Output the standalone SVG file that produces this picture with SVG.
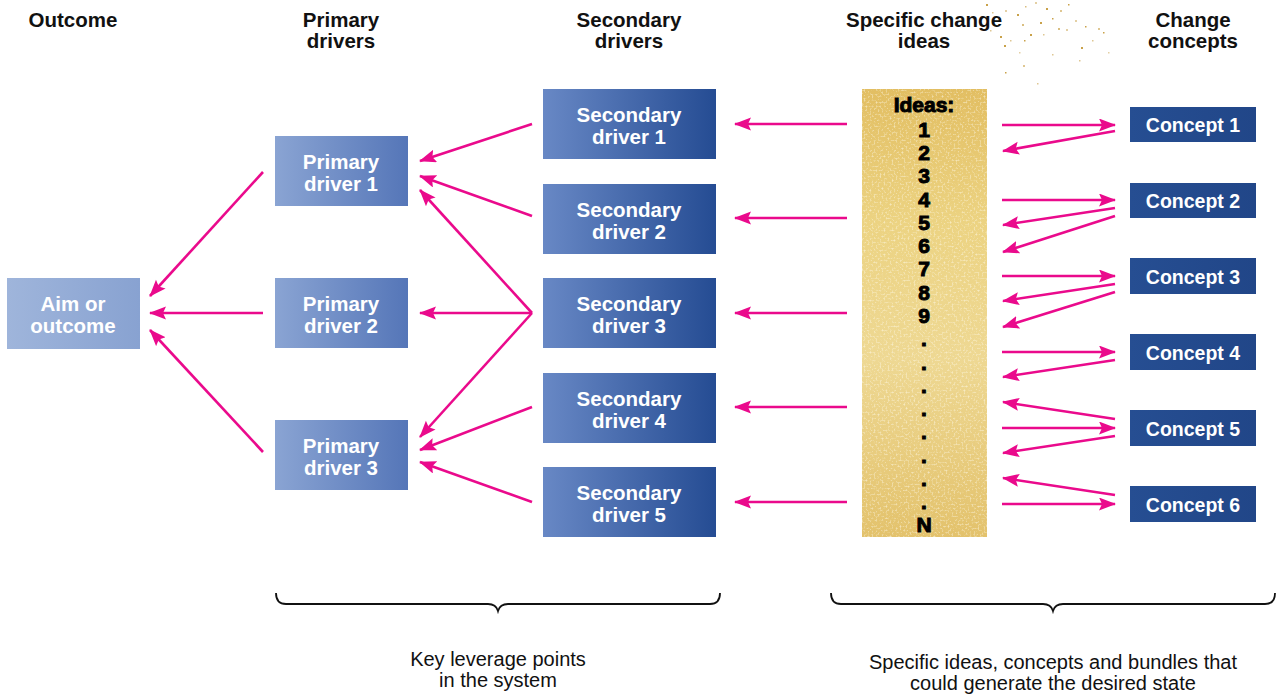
<svg xmlns="http://www.w3.org/2000/svg" width="1277" height="694" viewBox="0 0 1277 694">
<defs>
<linearGradient id="gAim" x1="0" y1="0" x2="1" y2="0"><stop offset="0" stop-color="#9fb5db"/><stop offset="1" stop-color="#88a2d1"/></linearGradient>
<linearGradient id="gPri" x1="0" y1="0" x2="1" y2="0"><stop offset="0" stop-color="#8aa4d3"/><stop offset="1" stop-color="#5576b8"/></linearGradient>
<linearGradient id="gSec" x1="0" y1="0" x2="1" y2="0"><stop offset="0" stop-color="#6888c5"/><stop offset="1" stop-color="#254c93"/></linearGradient>
<linearGradient id="gCon" x1="0" y1="0" x2="1" y2="0"><stop offset="0" stop-color="#264e92"/><stop offset="1" stop-color="#214688"/></linearGradient>
<linearGradient id="gGold" x1="0" y1="0" x2="0" y2="1"><stop offset="0" stop-color="#e2be62"/><stop offset="0.3" stop-color="#ecd382"/><stop offset="0.6" stop-color="#eed893"/><stop offset="1" stop-color="#e3c26c"/></linearGradient>
<filter id="sparkle" x="0" y="0" width="1" height="1">
<feTurbulence type="fractalNoise" baseFrequency="0.5" numOctaves="2" seed="3" result="n"/>
<feColorMatrix in="n" type="matrix" values="0 0 0 0 1  0 0 0 0 0.97  0 0 0 0 0.85  0 0 0 3.2 -1.6" result="s"/>
<feComposite in="s" in2="SourceGraphic" operator="in"/>
</filter>
<marker id="ah" markerUnits="userSpaceOnUse" markerWidth="18" markerHeight="14" refX="16" refY="6.5" orient="auto">
<path d="M0,0 L17,6.5 L0,13 L3,6.5 Z" fill="#ea0a8c"/>
</marker>
<style>
.hdr{font-family:"Liberation Sans",Arial,sans-serif;font-weight:bold;font-size:20.5px;fill:#111;text-anchor:middle}
.nt{font-family:"Liberation Sans",Arial,sans-serif;font-weight:bold;font-size:20.5px;fill:#fff;text-anchor:middle}
.ct{font-family:"Liberation Sans",Arial,sans-serif;font-weight:bold;font-size:19.5px;fill:#fff;text-anchor:middle}
.id{font-family:"Liberation Sans",Arial,sans-serif;font-weight:bold;font-size:21px;fill:#000;text-anchor:middle;stroke:#000;stroke-width:1}
.ft{font-family:"Liberation Sans",Arial,sans-serif;font-size:20px;fill:#111;text-anchor:middle}
.ar{stroke:#ea0a8c;stroke-width:2.6;fill:none;marker-end:url(#ah)}
.br{stroke:#111;stroke-width:1.8;fill:none}
.sp{fill:#c9a24a}
</style>
</defs>
<rect width="1277" height="694" fill="#fff"/>

<g id="speckles">
<rect class="sp" x="986" y="4" width="2" height="2"/><rect class="sp" x="992" y="12" width="1.5" height="1.5" opacity="0.6"/>
<rect class="sp" x="1005" y="10" width="2" height="2" opacity="0.5"/><rect class="sp" x="1017" y="14" width="2" height="2"/>
<rect class="sp" x="1025" y="6" width="1.5" height="1.5" opacity="0.7"/><rect class="sp" x="1035" y="2" width="2" height="2" opacity="0.5"/>
<rect class="sp" x="1046" y="8" width="2" height="2" fill="#8a6a40"/><rect class="sp" x="1052" y="18" width="1.5" height="1.5"/>
<rect class="sp" x="1060" y="10" width="2" height="2" opacity="0.6"/><rect class="sp" x="1068" y="4" width="1.5" height="1.5"/>
<rect class="sp" x="1075" y="20" width="2" height="2" opacity="0.5"/><rect class="sp" x="1085" y="26" width="1.5" height="1.5"/>
<rect class="sp" x="1098" y="28" width="2" height="2" opacity="0.6"/><rect class="sp" x="1103" y="32" width="1.5" height="1.5"/>
<rect class="sp" x="1022" y="24" width="2" height="2" opacity="0.7"/><rect class="sp" x="1040" y="22" width="2" height="2" fill="#8a6a40"/>
<rect class="sp" x="1030" y="34" width="2" height="2"/><rect class="sp" x="1043" y="34" width="1.5" height="1.5" opacity="0.6"/>
<rect class="sp" x="1058" y="28" width="2" height="2" opacity="0.7"/><rect class="sp" x="1066" y="29" width="2" height="2" opacity="0.5"/>
<rect class="sp" x="1000" y="36" width="2" height="2" fill="#8a6a40"/><rect class="sp" x="1004" y="45" width="2" height="2"/>
<rect class="sp" x="1010" y="40" width="1.5" height="1.5" opacity="0.6"/><rect class="sp" x="1024" y="40" width="1.5" height="1.5"/>
<rect class="sp" x="1081" y="47" width="2" height="2" fill="#8a6a40"/><rect class="sp" x="1052" y="54" width="1.5" height="1.5" opacity="0.6"/>
<rect class="sp" x="1019" y="52" width="1.5" height="1.5" opacity="0.5"/><rect class="sp" x="1005" y="72" width="1.5" height="1.5"/>
<rect class="sp" x="1023" y="65" width="2" height="2" opacity="0.6"/><rect class="sp" x="1079" y="60" width="1.5" height="1.5" opacity="0.6"/>
<rect class="sp" x="1037" y="83" width="1.5" height="1.5" opacity="0.6"/><rect class="sp" x="1108" y="52" width="1.5" height="1.5" opacity="0.5"/>
<rect class="sp" x="1092" y="40" width="1.5" height="1.5" opacity="0.6"/><rect class="sp" x="990" y="30" width="1.5" height="1.5" opacity="0.6"/>
</g>

<g id="headers">
<text class="hdr" x="73" y="27">Outcome</text>
<text class="hdr" x="341" y="27">Primary</text><text class="hdr" x="341" y="48">drivers</text>
<text class="hdr" x="629" y="27">Secondary</text><text class="hdr" x="629" y="48">drivers</text>
<text class="hdr" x="924" y="27">Specific change</text><text class="hdr" x="924" y="48">ideas</text>
<text class="hdr" x="1193" y="27">Change</text><text class="hdr" x="1193" y="48">concepts</text>
</g>

<g id="connectors">
<line class="ar" x1="263" y1="172" x2="150" y2="296"/>
<line class="ar" x1="263" y1="313" x2="150" y2="313"/>
<line class="ar" x1="263" y1="452" x2="150" y2="330"/>
<line class="ar" x1="532" y1="124" x2="420" y2="161"/>
<line class="ar" x1="532" y1="216" x2="420" y2="176"/>
<line class="ar" x1="532" y1="313" x2="420" y2="190"/>
<line class="ar" x1="532" y1="313" x2="420" y2="313"/>
<line class="ar" x1="532" y1="313" x2="420" y2="437"/>
<line class="ar" x1="532" y1="407" x2="420" y2="450"/>
<line class="ar" x1="532" y1="502" x2="420" y2="462"/>
<line class="ar" x1="847" y1="124" x2="735" y2="124"/>
<line class="ar" x1="847" y1="218" x2="735" y2="218"/>
<line class="ar" x1="847" y1="313" x2="735" y2="313"/>
<line class="ar" x1="847" y1="407" x2="735" y2="407"/>
<line class="ar" x1="847" y1="502" x2="735" y2="502"/>
<line class="ar" x1="1002" y1="125" x2="1115" y2="125"/>
<line class="ar" x1="1115" y1="131" x2="1003" y2="151"/>
<line class="ar" x1="1002" y1="200" x2="1115" y2="200"/>
<line class="ar" x1="1115" y1="208" x2="1003" y2="225"/>
<line class="ar" x1="1115" y1="216" x2="1003" y2="252"/>
<line class="ar" x1="1002" y1="276" x2="1115" y2="276"/>
<line class="ar" x1="1115" y1="284" x2="1003" y2="301"/>
<line class="ar" x1="1115" y1="292" x2="1003" y2="327"/>
<line class="ar" x1="1002" y1="352" x2="1115" y2="352"/>
<line class="ar" x1="1115" y1="360" x2="1003" y2="377"/>
<line class="ar" x1="1115" y1="419" x2="1003" y2="402"/>
<line class="ar" x1="1002" y1="428" x2="1115" y2="428"/>
<line class="ar" x1="1115" y1="436" x2="1003" y2="453"/>
<line class="ar" x1="1115" y1="495" x2="1003" y2="478"/>
<line class="ar" x1="1002" y1="504" x2="1115" y2="504"/>
</g>

<g id="aim"><rect x="7" y="278" width="133" height="71" fill="url(#gAim)"/>
<text class="nt" x="73" y="311">Aim or</text><text class="nt" x="73" y="333">outcome</text></g>

<g id="primary1"><rect x="275" y="136" width="133" height="70" fill="url(#gPri)"/>
<text class="nt" x="341" y="169">Primary</text><text class="nt" x="341" y="191">driver 1</text></g>
<g id="primary2"><rect x="275" y="278" width="133" height="70" fill="url(#gPri)"/>
<text class="nt" x="341" y="311">Primary</text><text class="nt" x="341" y="333">driver 2</text></g>
<g id="primary3"><rect x="275" y="420" width="133" height="70" fill="url(#gPri)"/>
<text class="nt" x="341" y="453">Primary</text><text class="nt" x="341" y="475">driver 3</text></g>

<g id="secondary1"><rect x="543" y="89" width="173" height="70" fill="url(#gSec)"/>
<text class="nt" x="629" y="122">Secondary</text><text class="nt" x="629" y="144">driver 1</text></g>
<g id="secondary2"><rect x="543" y="184" width="173" height="70" fill="url(#gSec)"/>
<text class="nt" x="629" y="217">Secondary</text><text class="nt" x="629" y="239">driver 2</text></g>
<g id="secondary3"><rect x="543" y="278" width="173" height="70" fill="url(#gSec)"/>
<text class="nt" x="629" y="311">Secondary</text><text class="nt" x="629" y="333">driver 3</text></g>
<g id="secondary4"><rect x="543" y="373" width="173" height="70" fill="url(#gSec)"/>
<text class="nt" x="629" y="406">Secondary</text><text class="nt" x="629" y="428">driver 4</text></g>
<g id="secondary5"><rect x="543" y="467" width="173" height="70" fill="url(#gSec)"/>
<text class="nt" x="629" y="500">Secondary</text><text class="nt" x="629" y="522">driver 5</text></g>

<g id="ideas">
<rect x="862" y="89" width="125" height="448" fill="url(#gGold)"/>
<rect x="862" y="89" width="125" height="448" fill="#fff" filter="url(#sparkle)" opacity="0.55"/>
<text class="id" x="924" y="112">Ideas:</text>
<text class="id" x="924" y="137">1</text>
<text class="id" x="924" y="160">2</text>
<text class="id" x="924" y="183">3</text>
<text class="id" x="924" y="207">4</text>
<text class="id" x="924" y="230">5</text>
<text class="id" x="924" y="253">6</text>
<text class="id" x="924" y="276">7</text>
<text class="id" x="924" y="300">8</text>
<text class="id" x="924" y="323">9</text>
<text class="id" x="924" y="346">.</text>
<text class="id" x="924" y="370">.</text>
<text class="id" x="924" y="393">.</text>
<text class="id" x="924" y="416">.</text>
<text class="id" x="924" y="439">.</text>
<text class="id" x="924" y="463">.</text>
<text class="id" x="924" y="486">.</text>
<text class="id" x="924" y="509">.</text>
<text class="id" x="924" y="532">N</text>
</g>

<g id="concept1"><rect x="1130" y="107" width="126" height="35" fill="url(#gCon)"/><text class="ct" x="1193" y="132">Concept 1</text></g>
<g id="concept2"><rect x="1130" y="183" width="126" height="35" fill="url(#gCon)"/><text class="ct" x="1193" y="208">Concept 2</text></g>
<g id="concept3"><rect x="1130" y="258" width="126" height="36" fill="url(#gCon)"/><text class="ct" x="1193" y="284">Concept 3</text></g>
<g id="concept4"><rect x="1130" y="334" width="126" height="36" fill="url(#gCon)"/><text class="ct" x="1193" y="360">Concept 4</text></g>
<g id="concept5"><rect x="1130" y="410" width="126" height="36" fill="url(#gCon)"/><text class="ct" x="1193" y="436">Concept 5</text></g>
<g id="concept6"><rect x="1130" y="486" width="126" height="36" fill="url(#gCon)"/><text class="ct" x="1193" y="512">Concept 6</text></g>

<g id="brackets">
<path class="br" d="M276,593 Q276,604 286,604 L488,604 Q496,604 498,611 Q500,604 508,604 L710,604 Q720,604 720,593"/>
<path class="br" d="M831,593 Q831,604 841,604 L1043,604 Q1051,604 1053,611 Q1055,604 1063,604 L1265,604 Q1275,604 1275,593"/>
</g>

<g id="footer">
<text class="ft" x="498" y="666">Key leverage points</text>
<text class="ft" x="498" y="687">in the system</text>
<text class="ft" x="1053" y="669">Specific ideas, concepts and bundles that</text>
<text class="ft" x="1053" y="690">could generate the desired state</text>
</g>
</svg>
